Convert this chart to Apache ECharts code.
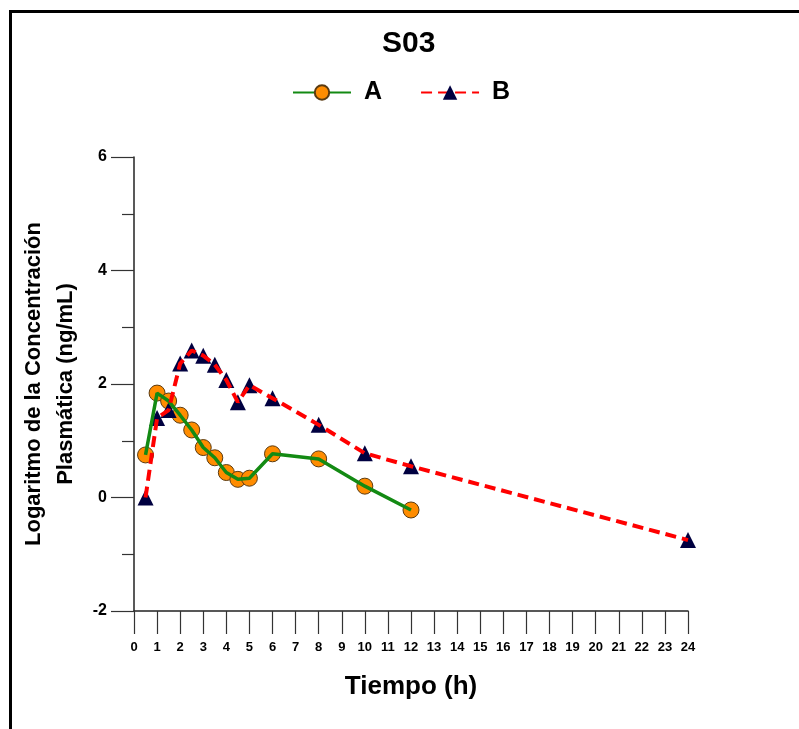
<!DOCTYPE html>
<html>
<head>
<meta charset="utf-8">
<script src="https://cdn.jsdelivr.net/npm/echarts@6/dist/echarts.min.js"></script>
<style>
  html, body { margin: 0; padding: 0; background: #fff; overflow: hidden; }
  #frame { position: absolute; left: 9px; top: 10px; width: 900px; height: 900px; border: 3px solid #000; box-sizing: border-box; }
  #chart { position: absolute; left: 0; top: 0; width: 799px; height: 729px; }
</style>
</head>
<body>
<div id="frame"></div>
<div id="chart"></div>
<script>
// Data
const titleText = 'S03';
const seriesNames = ['A', 'B'];
const timeA = [0.5, 1, 1.5, 2, 2.5, 3, 3.5, 4, 4.5, 5, 6, 8, 10, 12];
const valuesA = [0.75, 1.84, 1.70, 1.45, 1.19, 0.88, 0.70, 0.44, 0.32, 0.34, 0.77, 0.68, 0.20, -0.22];
const timeB = [0.5, 1, 1.5, 2, 2.5, 3, 3.5, 4, 4.5, 5, 6, 8, 10, 12, 24];
const valuesB = [0.0, 1.40, 1.54, 2.36, 2.59, 2.50, 2.34, 2.07, 1.68, 1.98, 1.75, 1.28, 0.78, 0.55, -0.75];
const xTicks = { min: 0, max: 24, interval: 1 };
const yTicks = { min: -2, max: 6, interval: 2 };
const xTitle = 'Tiempo (h)';
const yTitle = 'Logaritmo de la Concentración\nPlasmática (ng/mL)';

const FONT = '"Liberation Sans", Arial, sans-serif';
const pairs = (xs, ys) => xs.map((x, i) => [x, ys[i]]);

const styleA = {
  line: { color: '#138a13', width: 3.5 },
  item: { color: '#ff8c00', borderColor: '#5a3a10', borderWidth: 1, opacity: 1 }
};
const styleB = {
  line: { color: '#ff0000', width: 4, type: [11, 6] },
  item: { color: '#000040', borderColor: '#000040', borderWidth: 0, opacity: 1 }
};

const chart = echarts.init(document.getElementById('chart'), null, { renderer: 'canvas' });
chart.setOption({
  backgroundColor: 'transparent',
  animation: false,
  title: {
    text: titleText,
    left: 382, top: 29, padding: 0,
    textStyle: { fontFamily: FONT, fontSize: 30, fontWeight: 'bold', color: '#000' }
  },
  legend: {
    data: seriesNames,
    left: 292, top: 80, padding: 0,
    itemWidth: 58, itemHeight: 18, itemGap: 38,
    textStyle: { fontFamily: FONT, fontSize: 25, fontWeight: 'bold', color: '#000', padding: [0, 0, 0, 8] }
  },
  grid: { left: 134, right: 111, top: 157, bottom: 118, containLabel: false },
  xAxis: {
    type: 'value',
    min: xTicks.min, max: xTicks.max, interval: xTicks.interval,
    name: xTitle, nameLocation: 'middle', nameGap: 63,
    nameTextStyle: { fontFamily: FONT, fontSize: 26, fontWeight: 'bold', color: '#000' },
    axisLine: { onZero: false, lineStyle: { color: '#222', width: 1.5 } },
    axisTick: { show: true, length: 23, lineStyle: { color: '#333', width: 1.2 } },
    axisLabel: { margin: 30, fontFamily: FONT, fontSize: 13, fontWeight: 'bold', color: '#000' },
    splitLine: { show: false }
  },
  yAxis: {
    type: 'value',
    min: yTicks.min, max: yTicks.max, interval: yTicks.interval,
    name: yTitle, nameLocation: 'middle', nameGap: 52,
    nameTextStyle: { fontFamily: FONT, fontSize: 22, fontWeight: 'bold', color: '#000', lineHeight: 32, align: 'center' },
    axisLine: { show: true, onZero: false, lineStyle: { color: '#222', width: 1.5 } },
    axisTick: { show: true, length: 23, lineStyle: { color: '#333', width: 1.2 } },
    minorTick: { show: true, splitNumber: 2, length: 12, lineStyle: { color: '#333', width: 1.2 } },
    axisLabel: { margin: 27, fontFamily: FONT, fontSize: 16, fontWeight: 'bold', color: '#000' },
    splitLine: { show: false }
  },
  series: [
    // markers (drawn beneath the lines, as in the reference)
    {
      name: 'A markers', type: 'scatter', data: pairs(timeA, valuesA),
      symbol: 'circle', symbolSize: 16, itemStyle: styleA.item, z: 2
    },
    {
      name: 'B markers', type: 'scatter', data: pairs(timeB, valuesB),
      symbol: 'triangle', symbolSize: 16, itemStyle: styleB.item, z: 2
    },
    // lines (on top)
    {
      name: seriesNames[0], type: 'line', data: pairs(timeA, valuesA),
      symbol: 'circle', symbolSize: 16, showSymbol: false,
      lineStyle: styleA.line, itemStyle: styleA.item, z: 3
    },
    {
      name: seriesNames[1], type: 'line', data: pairs(timeB, valuesB),
      symbol: 'triangle', symbolSize: 16, showSymbol: false,
      lineStyle: styleB.line, itemStyle: styleB.item, z: 4
    }
  ]
});
</script>
</body>
</html>
